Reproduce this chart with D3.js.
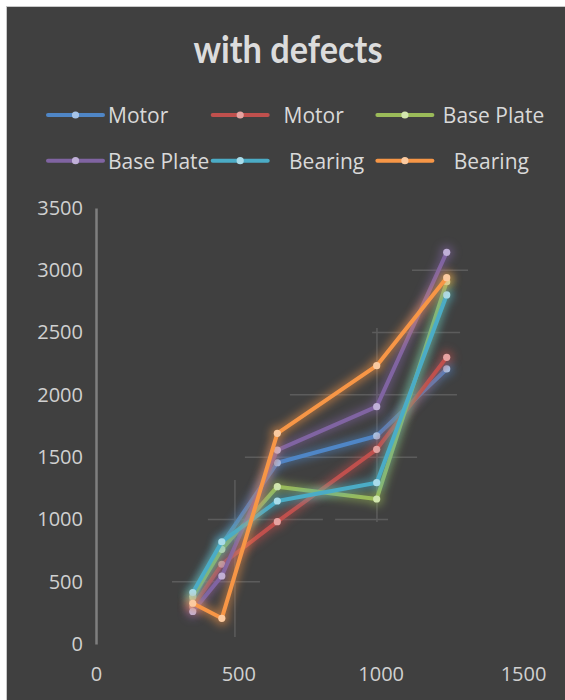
<!DOCTYPE html>
<html>
<head>
<meta charset="utf-8">
<script src="https://cdn.jsdelivr.net/npm/d3@7/dist/d3.min.js"></script>
<style>
  html, body { margin: 0; padding: 0; background: #ffffff; }
  svg { display: block; }
  text { font-family: "Open Sans", "Noto Sans", sans-serif; }
</style>
</head>
<body>
<svg id="chart" width="565" height="700"></svg>
<script>
// Shared x positions of the measurements
const xValues = [340, 442, 637, 986, 1232];

// Series values (same x for every series)
const motorA      = [350, 800, 1455, 1670, 2208];
const motorB      = [300, 640, 982, 1563, 2301];
const basePlateA  = [380, 760, 1263, 1164, 2908];
const basePlateB  = [261, 546, 1557, 1905, 3144];
const bearingA    = [413, 821, 1148, 1295, 2802];
const bearingB    = [327, 206, 1691, 2234, 2941];

const seriesNames  = ["Motor", "  Motor", " Base Plate", "Base Plate", "   Bearing", "   Bearing"];
const seriesValues = [motorA, motorB, basePlateA, basePlateB, bearingA, bearingB];
const lineColors   = ["#4f86c6", "#c0504d", "#9bbb59", "#8064a2", "#4bacc6", "#f79646"];
const markerColors = ["#a6c4e8", "#e6a3a1", "#d2e6ae", "#c0b0d8", "#a9dcea", "#fbcaa0"];

// Axis tick labels
const xTicks = [0, 500, 1000, 1500];
const yTicks = [0, 500, 1000, 1500, 2000, 2500, 3000, 3500];

// Error-bar segments (data units)
const hBars = [
  { y: 3000, x0: 1110, x1: 1307 },
  { y: 2500, x0: 970,  x1: 1279 },
  { y: 2000, x0: 681,  x1: 1268 },
  { y: 1500, x0: 523,  x1: 1128 },
  { y: 1000, x0: 393,  x1: 797 },
  { y: 1000, x0: 840,  x1: 1026 },
  { y: 500,  x0: 267,  x1: 576 }
];
const vBars = [
  { x: 488, y0: 56,  y1: 1317 },
  { x: 987, y0: 979, y1: 2537 }
];

const svg = d3.select("#chart");

// Chart frame
svg.append("rect")
  .attr("x", 6.5).attr("y", 6.5)
  .attr("width", 570).attr("height", 700)
  .attr("fill", "#404040")
  .attr("stroke", "#c8c8c8").attr("stroke-width", 1);

// Glow filter
const defs = svg.append("defs");
defs.append("filter")
  .attr("id", "glow")
  .attr("x", "-50%").attr("y", "-50%")
  .attr("width", "200%").attr("height", "200%")
  .append("feGaussianBlur").attr("stdDeviation", 4);

const x = d3.scaleLinear().domain([0, 1500]).range([96, 523]);
const y = d3.scaleLinear().domain([0, 3500]).range([644, 208]);

// Title
svg.append("text")
  .attr("x", 288).attr("y", 63)
  .attr("text-anchor", "middle")
  .attr("font-size", 38).attr("font-weight", 700)
  .attr("textLength", 189).attr("lengthAdjust", "spacingAndGlyphs")
  .style("font-family", "Lato, 'Open Sans', sans-serif")
  .attr("fill", "#dcdcdc")
  .text("with defects");

// Legend
const legend = svg.append("g");
seriesNames.forEach((name, i) => {
  const col = i % 3, row = Math.floor(i / 3);
  const x0 = 48 + col * 164.7, yy = 115 + row * 45.7;
  const g = legend.append("g");
  g.append("line")
    .attr("x1", x0).attr("x2", x0 + 55)
    .attr("y1", yy).attr("y2", yy)
    .attr("stroke", lineColors[i]).attr("stroke-width", 4)
    .attr("stroke-linecap", "round");
  g.append("circle")
    .attr("cx", x0 + 27.5).attr("cy", yy).attr("r", 3.6)
    .attr("fill", markerColors[i]);
  g.append("text")
    .attr("x", x0 + 60).attr("y", yy + 8)
    .attr("font-size", 21).attr("fill", "#d9d9d9")
    .style("white-space", "pre")
    .text(name);
});

// Y axis
const yAxis = svg.append("g")
  .attr("transform", `translate(${x(0)},0)`)
  .call(d3.axisLeft(y).tickValues(yTicks).tickFormat(d3.format("d"))
    .tickSize(0).tickSizeOuter(0).tickPadding(13));
yAxis.select(".domain").attr("stroke", "#7f7f7f").attr("stroke-width", 2.5);
yAxis.selectAll("text")
  .attr("font-size", 20).attr("fill", "#d0d0d0")
  .style("font-family", "'Open Sans', sans-serif");

// X axis (labels only)
const xAxis = svg.append("g")
  .attr("transform", `translate(0,${y(0)})`)
  .call(d3.axisBottom(x).tickValues(xTicks).tickFormat(d3.format("d"))
    .tickSize(0).tickSizeOuter(0).tickPadding(23));
xAxis.select(".domain").remove();
xAxis.selectAll("text")
  .attr("font-size", 20).attr("fill", "#d0d0d0")
  .style("font-family", "'Open Sans', sans-serif");

// Error bars
const bars = svg.append("g").attr("stroke", "#5c5c5c").attr("stroke-width", 1.5);
bars.selectAll("line.h").data(hBars).join("line")
  .attr("class", "h")
  .attr("x1", d => x(d.x0)).attr("x2", d => x(d.x1))
  .attr("y1", d => y(d.y)).attr("y2", d => y(d.y));
bars.selectAll("line.v").data(vBars).join("line")
  .attr("class", "v")
  .attr("x1", d => x(d.x)).attr("x2", d => x(d.x))
  .attr("y1", d => y(d.y0)).attr("y2", d => y(d.y1));

// Series
const line = d3.line().x(d => x(d[0])).y(d => y(d[1]));
seriesValues.forEach((vals, i) => {
  const pts = xValues.map((xv, j) => [xv, vals[j]]);
  const g = svg.append("g");
  const glow = g.append("g").attr("filter", "url(#glow)").attr("opacity", 0.55);
  glow.append("path").attr("d", line(pts))
    .attr("fill", "none").attr("stroke", lineColors[i]).attr("stroke-width", 9)
    .attr("stroke-linejoin", "round");
  glow.selectAll("circle").data(pts).join("circle")
    .attr("cx", d => x(d[0])).attr("cy", d => y(d[1])).attr("r", 7)
    .attr("fill", lineColors[i]);
  g.append("path").attr("d", line(pts))
    .attr("fill", "none").attr("stroke", lineColors[i]).attr("stroke-width", 4)
    .attr("stroke-linejoin", "round").attr("stroke-linecap", "round");
  g.selectAll("circle.m").data(pts).join("circle")
    .attr("class", "m")
    .attr("cx", d => x(d[0])).attr("cy", d => y(d[1])).attr("r", 3.6)
    .attr("fill", markerColors[i]);
});
</script>
</body>
</html>
